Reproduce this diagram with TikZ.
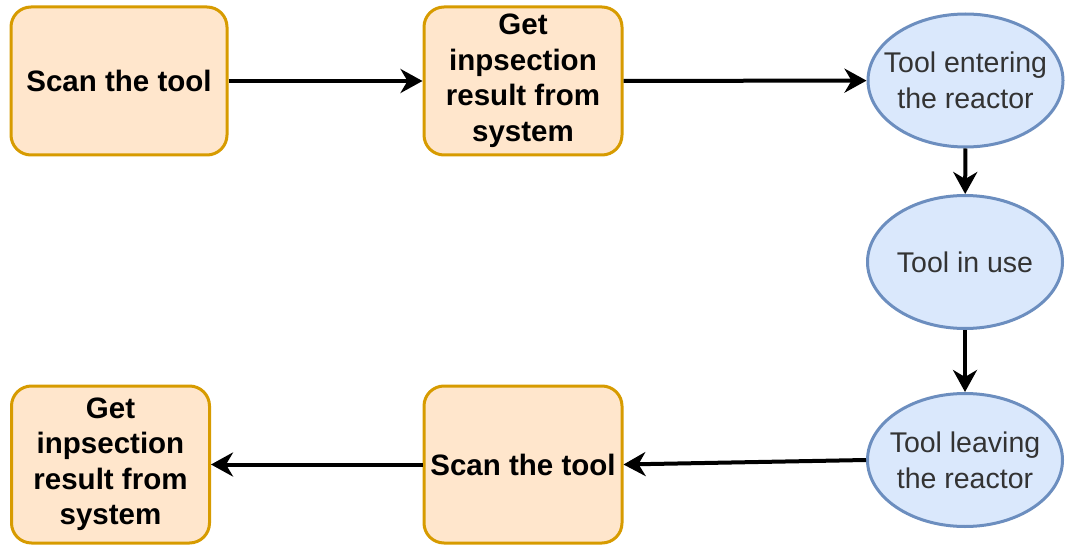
\documentclass[tikz,border=0pt]{standalone}
\usepackage{fontspec}
\setmainfont{Liberation Sans}
\usetikzlibrary{shapes.geometric,arrows.meta}
\definecolor{ofill}{HTML}{FFE6CC}
\definecolor{odraw}{HTML}{D79B00}
\definecolor{bfill}{HTML}{DAE8FC}
\definecolor{bdraw}{HTML}{6C8EBF}
\definecolor{btext}{HTML}{333333}
\tikzset{
  obox/.style={draw=odraw, fill=ofill, line width=3pt, rounded corners=20pt,
    inner sep=0pt, align=center, font=\fontsize{29.5}{35.5}\selectfont\bfseries, text=black},
  bell/.style={ellipse, draw=bdraw, fill=bfill, line width=3pt, inner sep=0pt,
    minimum width=195pt, minimum height=133pt},
  btxt/.style={inner sep=0pt, align=center, font=\fontsize{28.5}{36}\selectfont, text=btext},
  conn/.style={line width=4pt, -{Stealth[length=22pt,width=24pt,inset=7pt]}}
}
\begin{document}
\begin{tikzpicture}[x=1pt,y=-1pt]
\useasboundingbox (0,0) rectangle (1065,548);
\node[obox, minimum width=216pt, minimum height=148pt] (b1) at (119,81) {Scan the tool};
\node[obox, minimum width=198pt, minimum height=148pt] (b2) at (523,81) {Get\\inpsection\\result from\\system};
\node[bell] (e1) at (965.5,80.5) {};
\node[btxt] (t1) at (e1) {Tool entering\\the reactor};
\node[bell] (e2) at (965,262) {};
\node[btxt] (t2) at (e2) {Tool in use};
\node[bell] (e3) at (965,460) {};
\node[btxt] (t3) at (e3) {Tool leaving\\the reactor};
\node[obox, minimum width=198pt, minimum height=157pt] (b5) at (523,464.5) {Scan the tool};
\node[obox, minimum width=198pt, minimum height=157pt] (b4) at (110.5,464.5) {Get\\inpsection\\result from\\system};
\draw[conn] (b1) -- (b2);
\draw[conn] (b2) -- (e1);
\draw[conn] (e1) -- (e2);
\draw[conn] (e2) -- (e3);
\draw[conn] (e3.west) -- (b5.east);
\draw[conn] (b5) -- (b4);
\end{tikzpicture}
\end{document}
